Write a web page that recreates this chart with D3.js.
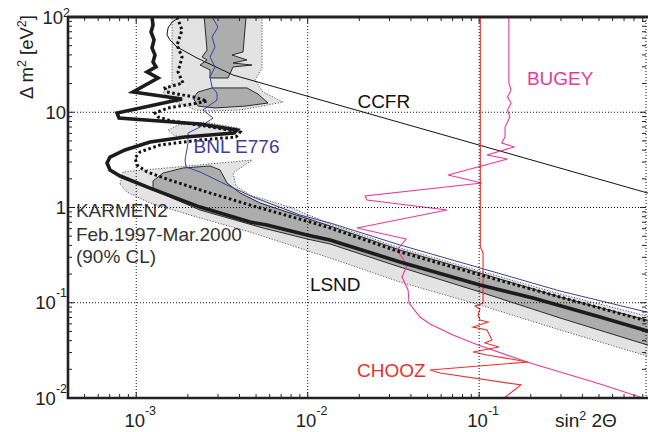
<!DOCTYPE html>
<html><head><meta charset="utf-8">
<script src="https://cdn.jsdelivr.net/npm/d3@7"></script>
<style>body{margin:0;background:#fff}svg{display:block}text{font-family:"Liberation Sans",Arial,sans-serif}</style>
</head><body><svg id="c" width="648" height="432"></svg>
<script>
// ---- data: [sin^2 2theta, delta m^2 (eV^2)] ----
const lsndLightTop = [[1.618e-3,100],[5.417e-3,100],[5.417e-3,29.1],[4.931e-3,21.8],[5.49e-3,16.3],[7.18e-3,12.8],[5.417e-3,11.6],[4.031e-3,10.56],[2.694e-3,10.3],[2.203e-3,10.56],[1.926e-3,11.9],[1.574e-3,13.45],[1.433e-3,16.3],[1.618e-3,19.3]];
const lsndLightLobe = [[1.533e-3,6.51],[1.753e-3,7.35],[2.519e-3,7.90],[3.925e-3,6.83],[3.431e-3,6.05],[2.356e-3,5.50],[1.684e-3,5.63]];
const lsndLightBand = [[8.05e-4,1.77],[8.375e-4,2.36],[4.736e-3,3.15],[3.669e-3,2.30],[3.820e-3,1.68],[4.61e-3,1.35],[7.889e-3,1.01],[1.35e-2,0.671],[3.456e-2,0.376],[0.1012,0.2155],[0.2962,0.1236],[1,0.0709],[1,0.0269],[0.2962,0.0518],[0.1012,0.0947],[3.456e-2,0.165],[1.35e-2,0.295],[4.61e-3,0.553],[2.356e-3,0.776],[1.204e-3,1.115],[8.84e-4,1.45]];
const lsndDarkTop = [[2.49e-3,100],[2.588e-3,45.0],[2.420e-3,38.0],[2.588e-3,35.4],[2.356e-3,31.3],[2.694e-3,27.8],[2.694e-3,22.9],[3.431e-3,22.9],[3.669e-3,29.9],[4.736e-3,31.3],[3.669e-3,32.9],[4.428e-3,35.4],[3.620e-3,39.9],[4.197e-3,42.9],[4.37e-3,100]];
const lsndDarkMid = [[2.145e-3,14.1],[2.293e-3,16.3],[2.767e-3,18.0],[4.428e-3,18.0],[5.134e-3,15.5],[5.872e-3,12.5],[4.311e-3,11.6],[2.881e-3,11.1],[2.293e-3,11.6]];
const lsndDarkBand = [[1.253e-3,1.53],[1.253e-3,1.90],[1.433e-3,2.30],[1.875e-3,2.60],[2.694e-3,2.73],[3.082e-3,2.48],[3.385e-3,1.81],[4.031e-3,1.42],[5.272e-3,1.115],[7.889e-3,0.876],[1.35e-2,0.640],[3.456e-2,0.358],[0.1012,0.205],[0.2962,0.1149],[1,0.0643],[1,0.0352],[0.2962,0.0692],[0.1012,0.1297],[3.456e-2,0.237],[1.35e-2,0.414],[9.91e-3,0.467],[5.49e-3,0.609],[2.356e-3,0.941]];
const ccfr = [[1.80e-3,100],[1.618e-3,88.6],[1.533e-3,76.7],[1.512e-3,64.7],[1.574e-3,57.4],[1.730e-3,48.4],[2.263e-3,37.1],[3.67e-3,24.6],[1,1.39]];
const bugey = [[0.149,100],[0.149,20.3],[0.1535,17.1],[0.1464,14.5],[0.1535,12.5],[0.1464,10.56],[0.151,8.92],[0.1416,7.00],[0.1416,5.50],[0.1354,4.76],[0.1597,4.32],[0.1111,3.56],[0.1464,3.23],[0.0659,2.19],[0.1039,1.81],[0.0216,1.32],[0.0222,1.20],[0.065,0.941],[0.0194,0.609],[0.0375,0.467],[0.0332,0.358],[0.038,0.249],[0.0355,0.1864],[0.0385,0.1361],[0.039,0.0994],[0.0452,0.0709],[0.0517,0.0598],[0.0704,0.0458],[0.0985,0.036],[0.190,0.0239],[0.507,0.0140],[0.903,0.01]];
const chooz = [[0.1016,100],[0.1016,0.385],[0.1054,0.333],[0.1054,0.0994],[0.0946,0.0924],[0.1012,0.086],[0.0985,0.0744],[0.1012,0.0659],[0.1127,0.0628],[0.0921,0.0556],[0.1111,0.0518],[0.1189,0.0406],[0.1082,0.0378],[0.1306,0.0343],[0.0921,0.0304],[0.1111,0.0283],[0.1929,0.0239],[0.0517,0.0197],[0.0592,0.0183],[0.1755,0.0137],[0.1397,0.01]];
const bnl = [[2.767e-3,100],[3.0e-3,78.5],[2.767e-3,61.7],[2.881e-3,48.4],[2.694e-3,38.0],[2.881e-3,29.9],[2.694e-3,23.4],[2.767e-3,18.4],[2.959e-3,15.9],[2.959e-3,13.45],[2.453e-3,10.56],[2.805e-3,8.70],[2.356e-3,7.00],[2.005e-3,6.05],[2.005e-3,4.76],[1.926e-3,3.15],[1.952e-3,2.66],[2.356e-3,2.36],[3.385e-3,1.72],[4.80e-3,1.29],[9.02e-3,0.834],[1.35e-2,0.688],[3.456e-2,0.404],[0.1012,0.232],[0.2962,0.1328],[1,0.0781]];
const karmenLimit = [[1.236e-3,100],[1.253e-3,82.4],[1.220e-3,69.6],[1.270e-3,57.4],[1.236e-3,47.3],[1.287e-3,39.9],[1.253e-3,33.7],[1.305e-3,29.9],[1.156e-3,26.5],[1.340e-3,22.9],[9.58e-4,16.3],[1.850e-3,13.8],[7.73e-4,9.82],[7.94e-4,8.70],[2.356e-3,7.53],[3.872e-3,6.51],[3.719e-3,6.05],[1.926e-3,5.50],[1.204e-3,4.87],[8.60e-4,4.02],[7.03e-4,3.39],[6.76e-4,2.93],[7.03e-4,2.48],[8.05e-4,2.14],[1.204e-3,1.60],[2.356e-3,1.01],[4.61e-3,0.704],[5.79e-3,0.655],[9.91e-3,0.514],[1.35e-2,0.456],[3.456e-2,0.268],[0.1012,0.1536],[0.206,0.1122],[0.507,0.0709],[1,0.0493]];
const karmenSens = [[1.730e-3,100],[1.850e-3,73.0],[1.730e-3,50.8],[1.850e-3,38.0],[1.753e-3,26.5],[1.875e-3,20.3],[1.472e-3,18.0],[1.512e-3,16.3],[2.145e-3,14.5],[2.588e-3,13.1],[2.116e-3,12.2],[1.533e-3,11.1],[1.287e-3,9.82],[1.340e-3,8.92],[1.618e-3,8.09],[2.519e-3,7.17],[4.031e-3,6.20],[3.820e-3,5.50],[2.356e-3,5.11],[1.377e-3,4.53],[1.052e-3,3.83],[9.84e-4,3.31],[1.011e-3,2.79],[1.156e-3,2.36],[1.574e-3,1.94],[2.356e-3,1.53],[4.61e-3,1.06],[1.032e-2,0.704],[1.35e-2,0.609],[3.456e-2,0.341],[0.1012,0.196],[0.2962,0.1149],[1,0.0628]];
const xMajor = [1e-3,1e-2,1e-1];
const xMajorExp = ["-3","-2","-1"];
const yMajor = [0.1,1,10];
const yLabels = [[0.01,"10","-2"],[0.1,"10","-1"],[1,"1",""],[10,"10",""],[100,"10","2"]];
const labels = [
  {t:"KARMEN2",x:4.45e-4,y:0.79,c:"#333"},
  {t:"Feb.1997-Mar.2000",x:4.45e-4,y:0.44,c:"#333"},
  {t:"(90% CL)",x:4.45e-4,y:0.26,c:"#333"},
  {t:"LSND",x:1.03e-2,y:0.133,c:"#111"},
  {t:"CCFR",x:1.95e-2,y:11.0,c:"#111"},
  {t:"BUGEY",x:0.19,y:19.4,c:"#e8389a"},
  {t:"BNL E776",x:2.16e-3,y:3.7,c:"#3d3d9e"},
  {t:"CHOOZ",x:1.94e-2,y:0.0168,c:"#e8312e"}
];

// ---- layout ----
const L=68,T=17,R=646,B=398;
const svg=d3.select("#c");
const x=d3.scaleLog().domain([4e-4,0.94]).range([L,R]);
const y=d3.scaleLog().domain([0.01,100]).range([B,T]);
svg.append("defs").append("clipPath").attr("id","clip").append("rect")
  .attr("x",L).attr("y",T).attr("width",648-L).attr("height",B-T);
const g=svg.append("g").attr("clip-path","url(#clip)");
const line=d3.line().x(d=>x(d[0])).y(d=>y(d[1]));
const poly=d3.line().x(d=>x(d[0])).y(d=>y(d[1])).curve(d3.curveLinearClosed);

[lsndLightTop,lsndLightLobe,lsndLightBand].forEach(p=>{
  g.append("path").attr("d",poly(p)).attr("fill","#e3e3e3").attr("stroke","#333")
   .attr("stroke-width",0.8).attr("stroke-dasharray","1.2,1.6");
});
[lsndDarkTop,lsndDarkMid,lsndDarkBand].forEach(p=>{
  g.append("path").attr("d",poly(p)).attr("fill","#adadad").attr("stroke","#1a1a1a").attr("stroke-width",0.9);
});

// grid
const grid=svg.append("g").attr("stroke","#111").attr("stroke-width",1).attr("stroke-dasharray","1,2");
xMajor.forEach(v=>grid.append("line").attr("x1",x(v)).attr("x2",x(v)).attr("y1",T).attr("y2",B));
yMajor.forEach(v=>grid.append("line").attr("x1",L).attr("x2",R).attr("y1",y(v)).attr("y2",y(v)));
grid.append("line").attr("x1",R).attr("x2",R).attr("y1",T).attr("y2",B);

// curves
g.append("path").attr("d",line(ccfr)).attr("fill","none").attr("stroke","#111").attr("stroke-width",1);
g.append("path").attr("d",line(bnl)).attr("fill","none").attr("stroke","#3d3d9e").attr("stroke-width",1);
g.append("path").attr("d",line(bugey)).attr("fill","none").attr("stroke","#e8389a").attr("stroke-width",1.1);
g.append("path").attr("d",line(chooz)).attr("fill","none").attr("stroke","#e8312e").attr("stroke-width",1.1);
g.append("path").attr("d",line(karmenSens)).attr("fill","none").attr("stroke","#111").attr("stroke-width",3).attr("stroke-dasharray","2.6,2.6");
g.append("path").attr("d",line(karmenLimit)).attr("fill","none").attr("stroke","#1c1c1c").attr("stroke-width",3.6).attr("stroke-linejoin","miter");

// axes frame
const ax=svg.append("g").attr("stroke","#222").attr("fill","none");
ax.append("line").attr("x1",L-1).attr("x2",648).attr("y1",T).attr("y2",T).attr("stroke-width",3);
ax.append("line").attr("x1",L).attr("x2",L).attr("y1",T).attr("y2",B+1).attr("stroke-width",2.6);
ax.append("line").attr("x1",L-1).attr("x2",648).attr("y1",B).attr("y2",B).attr("stroke-width",2.4);
x.ticks().forEach(v=>{
  const X=x(v), major=xMajor.includes(v);
  const len=major?6:4;
  ax.append("line").attr("x1",X).attr("x2",X).attr("y1",B).attr("y2",B-len).attr("stroke-width",1);
  ax.append("line").attr("x1",X).attr("x2",X).attr("y1",T).attr("y2",T+len).attr("stroke-width",1);
});
y.ticks().forEach(v=>{
  const Y=y(v);
  const len=[0.01,0.1,1,10,100].includes(v)?6:4;
  ax.append("line").attr("x1",L).attr("x2",L+len).attr("y1",Y).attr("y2",Y).attr("stroke-width",1);
  ax.append("line").attr("x1",R).attr("x2",R-len).attr("y1",Y).attr("y2",Y).attr("stroke-width",1);
});

// tick labels
const tl=svg.append("g").attr("fill","#222");
xMajor.forEach((v,i)=>{
  const t=tl.append("text").attr("x",x(v)+4).attr("y",427).attr("text-anchor","middle").attr("font-size",18.5).text("10");
  t.append("tspan").attr("font-size",12.5).attr("dy",-12).text(xMajorExp[i]);
});
yLabels.forEach(([v,b,e])=>{
  const neg=e.startsWith("-");
  const t=tl.append("text").attr("x",e? (neg?67:70):66).attr("y",y(v)+6.5).attr("text-anchor","end").attr("font-size",18.5).text(b);
  if(e) t.append("tspan").attr("font-size",12.5).attr("dy",neg?-12:-7).text(e);
});
const xt=tl.append("text").attr("x",555).attr("y",427).attr("font-size",19).text("sin");
xt.append("tspan").attr("font-size",12.5).attr("dy",-7).text("2");
xt.append("tspan").attr("dy",7).text(" 2\u0398");
const yt=tl.append("text").attr("transform","translate(33,57) rotate(-90)").attr("text-anchor","middle").attr("font-size",18.5).text("\u0394 m");
yt.append("tspan").attr("font-size",12.5).attr("dy",-7).text("2");
yt.append("tspan").attr("dy",7).text(" [eV");
yt.append("tspan").attr("font-size",12.5).attr("dy",-7).text("2");
yt.append("tspan").attr("dy",7).text("]");

// annotations
labels.forEach(l=>{
  svg.append("text").attr("x",x(l.x)).attr("y",y(l.y)).attr("font-size",19).attr("fill",l.c).text(l.t);
});
</script></body></html>
